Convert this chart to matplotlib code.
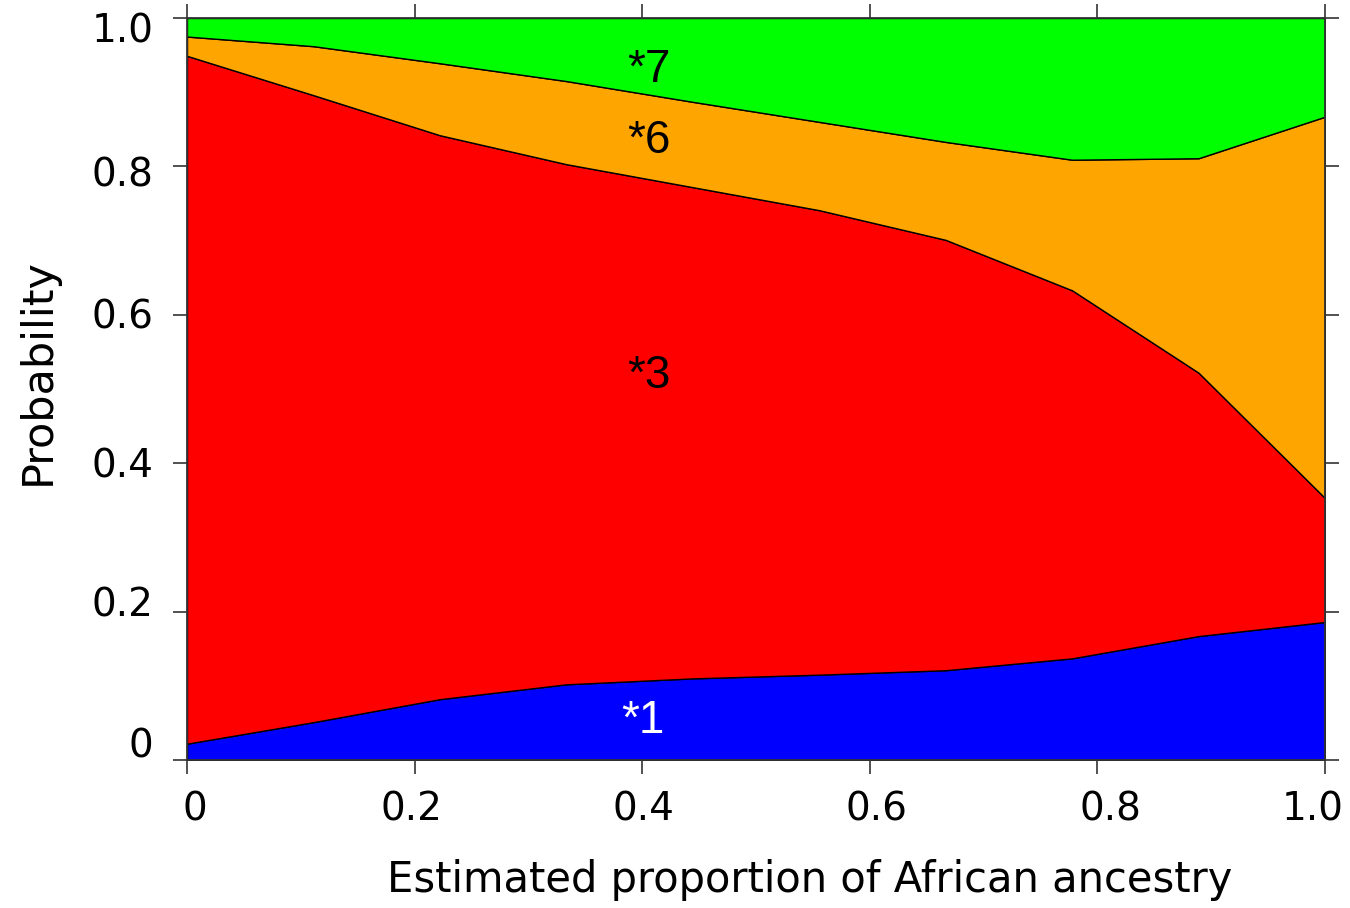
import numpy as np
import matplotlib
matplotlib.use("Agg")
import matplotlib.pyplot as plt
import matplotlib.transforms as mtransforms

# ancestry bins (0 .. 1 in ninths)
ancestry = [0.0, 1/9, 2/9, 3/9, 4/9, 5/9, 6/9, 7/9, 8/9, 1.0]

# allele probabilities per bin
p_star1 = [0.022, 0.051, 0.082, 0.102, 0.110, 0.115, 0.121, 0.137, 0.167, 0.186]
p_star3 = [0.927, 0.845, 0.760, 0.701, 0.662, 0.626, 0.580, 0.496, 0.355, 0.167]
p_star6 = [0.026, 0.066, 0.097, 0.112, 0.115, 0.119, 0.132, 0.176, 0.289, 0.514]
p_star7 = [0.025, 0.038, 0.061, 0.085, 0.113, 0.140, 0.167, 0.191, 0.189, 0.133]

alleles = ["*1", "*3", "*6", "*7"]
colors = ["#0000ff", "#ff0000", "#ffa500", "#00ff00"]

tick_vals = [0, 0.2, 0.4, 0.6, 0.8, 1.0]
tick_labels = ["0", "0.2", "0.4", "0.6", "0.8", "1.0"]

fig = plt.figure(figsize=(13.5, 9.08), dpi=100)
ax = fig.add_axes([187/1350, 1 - 760/908, 1138/1350, 742/908])

ax.stackplot(ancestry, p_star1, p_star3, p_star6, p_star7,
             colors=colors, edgecolor="black", linewidth=1.0)

ax.set_xlim(0, 1)
ax.set_ylim(0, 1)

for s in ax.spines.values():
    s.set_color("#333333")
    s.set_linewidth(1.3)

ax.set_xticks(tick_vals)
ax.set_xticklabels(tick_labels)
ax.set_yticks(tick_vals)
ax.set_yticklabels(tick_labels)
ax.tick_params(direction="out", length=10, width=1.2, color="#333333",
               top=True, right=True, labelsize=28, pad=12)
ax.tick_params(axis="y", pad=14)

# nudge end labels a bit like the original layout
xoff = [8, -3, 1, 7, 13, -12]
yoff = [18, 10, 1, 1, -5, -10]
for lab, dx in zip(ax.get_xticklabels(), xoff):
    lab.set_transform(lab.get_transform() +
                      mtransforms.ScaledTranslation(dx/100, 0, fig.dpi_scale_trans))
for lab, dy in zip(ax.get_yticklabels(), yoff):
    lab.set_transform(lab.get_transform() +
                      mtransforms.ScaledTranslation(0, dy/100, fig.dpi_scale_trans))

ax.set_xlabel("Estimated proportion of African ancestry", fontsize=30)
ax.xaxis.set_label_coords(0.547, -0.162)
ax.xaxis.label.set_va("center")
ax.set_ylabel("Probability", fontsize=31)
ax.yaxis.set_label_coords(-0.131, 0.523)
ax.yaxis.label.set_va("center")

# allele names inside the bands
label_pos = [(0.401, 0.036), (0.406, 0.501), (0.406, 0.818), (0.406, 0.914)]
label_colors = ["white", "black", "black", "black"]
for name, (lx, ly), c in zip(alleles, label_pos, label_colors):
    ax.text(lx, ly, name, ha="center", va="baseline", fontsize=33,
            family="Liberation Sans", color=c)

fig.savefig("out.png", dpi=100)
